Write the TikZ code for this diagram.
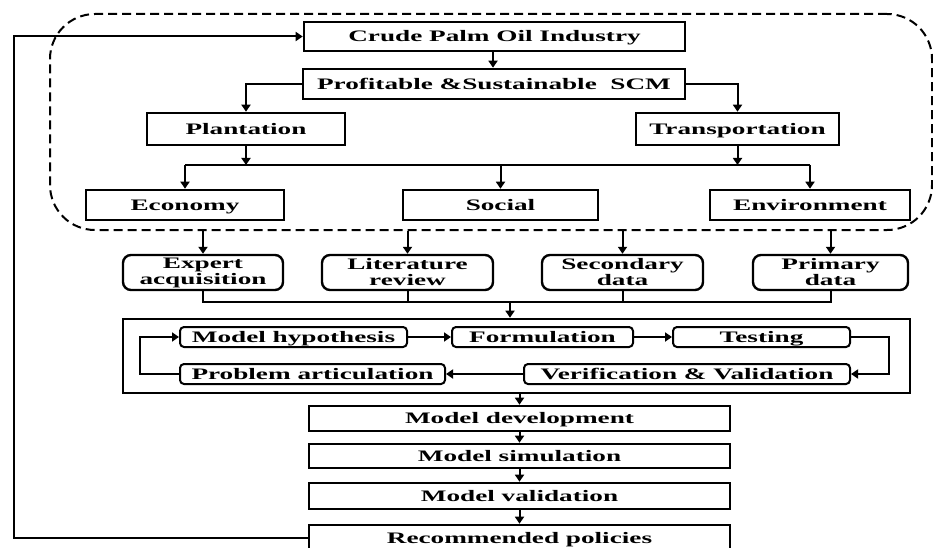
\documentclass[tikz,border=0pt]{standalone}
\usepackage{fontspec}
\newfontfamily\diafont[FakeStretch=1.7]{Liberation Serif}
\usetikzlibrary{arrows.meta}
\begin{document}
\begin{tikzpicture}[x=1pt,y=-1pt,
  every node/.style={font=\diafont\bfseries\fontsize{16}{16}\selectfont, align=center, inner sep=0pt},
  sqbox/.style={draw, line width=2.6pt, minimum width=#1, text height=10.6pt, text depth=0pt},
  rbox/.style={draw, line width=2.4pt, rounded corners=8pt, minimum width=#1, minimum height=35pt},
  ibox/.style={draw, line width=2pt, rounded corners=4pt, minimum width=#1, minimum height=20pt, text height=10.6pt, text depth=0pt},
  conn/.style={line width=2pt},
  arr/.style={line width=2pt, -{Triangle[length=7pt,width=9pt]}},
  grp/.style={draw, dashed, dash pattern=on 9pt off 5pt, line width=2pt, rounded corners=45pt}
]
\useasboundingbox (0,0) rectangle (933,548);

% dashed group
\node[grp, minimum width=882pt, minimum height=216pt] (grp) at (491,122) {};

% top part
\node[sqbox=381pt, minimum height=29pt] (crude) at (494.5,36.5) {Crude Palm Oil Industry};
\node[sqbox=382pt, minimum height=30pt] (prof) at (494,84) {Profitable \&Sustainable\ \ SCM};
\node[sqbox=198pt, minimum height=32pt] (plant) at (246,129) {Plantation};
\node[sqbox=203pt, minimum height=32pt] (trans) at (737.5,129) {Transportation};
\node[sqbox=198pt, minimum height=30pt] (econ) at (185,205) {Economy};
\node[sqbox=195pt, minimum height=30pt] (soc) at (500.5,205) {Social};
\node[sqbox=200pt, minimum height=30pt] (env) at (810,205) {Environment};

\draw[arr] (crude.south -| 493,0) -- (prof.north -| 493,0);
\draw[arr] (prof.west) -| (plant.north);
\draw[arr] (prof.east) -| (trans.north);
\coordinate (jl) at (246,165);
\coordinate (jr) at (737.5,165);
\draw[arr] (plant.south) -- (jl);
\draw[arr] (trans.south) -- (jr);
\draw[conn] (econ.north |- jl) -- (env.north |- jl);
\draw[arr] (econ.north |- jl) -- (econ.north);
\draw[arr] (soc.north |- jl) -- (soc.north);
\draw[arr] (env.north |- jl) -- (env.north);

% data boxes
\node[rbox=160pt] (exp) at (203,272.5) {Expert\\acquisition};
\node[rbox=171pt] (lit) at (407.5,272.5) {Literature\\review};
\node[rbox=161pt] (sec) at (622.5,272.5) {Secondary\\data};
\node[rbox=155pt] (pri) at (830.5,272.5) {Primary\\data};

\draw[arr] (exp.north |- grp.south) -- (exp.north);
\draw[arr] (lit.north |- grp.south) -- (lit.north);
\draw[arr] (sec.north |- grp.south) -- (sec.north);
\draw[arr] (pri.north |- grp.south) -- (pri.north);

\coordinate (dj) at (510,302);
\draw[conn] (exp.south) -- (exp.south |- dj) -- (pri.south |- dj) -- (pri.south);
\draw[conn] (lit.south) -- (lit.south |- dj);
\draw[conn] (sec.south) -- (sec.south |- dj);

% modelling box
\node[draw, line width=2.6pt, minimum width=787pt, minimum height=74pt] (big) at (516.5,356) {};
\draw[arr] (dj) -- (dj |- big.north);

\node[ibox=227pt] (mh) at (293.5,337) {Model hypothesis};
\node[ibox=181pt] (form) at (542.5,337) {Formulation};
\node[ibox=177pt] (test) at (761.5,337) {Testing};
\node[ibox=326pt] (vv) at (687,374) {Verification \& Validation};
\node[ibox=265pt] (pa) at (312.5,374) {Problem articulation};

\draw[arr] (mh.east) -- (form.west);
\draw[arr] (form.east) -- (test.west);
\coordinate (tr) at (889,337);
\draw[arr] (test.east) -- (tr) |- (vv.east);
\draw[arr] (vv.west) -- (pa.east);
\coordinate (pl) at (140,374);
\draw[arr] (pa.west) -- (pl) |- (mh.west);

% bottom chain
\node[sqbox=421pt, minimum height=25pt] (md) at (519.5,418.5) {Model development};
\node[sqbox=421pt, minimum height=24pt] (ms) at (519.5,456) {Model simulation};
\node[sqbox=421pt, minimum height=26pt] (mv) at (519.5,496) {Model validation};
\node[sqbox=421pt, minimum height=26pt] (rp) at (519.5,538) {Recommended policies};

\draw[arr] (big.south -| md.north) -- (md.north);
\draw[arr] (md.south) -- (ms.north);
\draw[arr] (ms.south) -- (mv.north);
\draw[arr] (mv.south) -- (rp.north);

% feedback loop
\coordinate (fb) at (14,538);
\draw[arr] (rp.west) -- (fb) |- (crude.west);
\end{tikzpicture}
\end{document}
